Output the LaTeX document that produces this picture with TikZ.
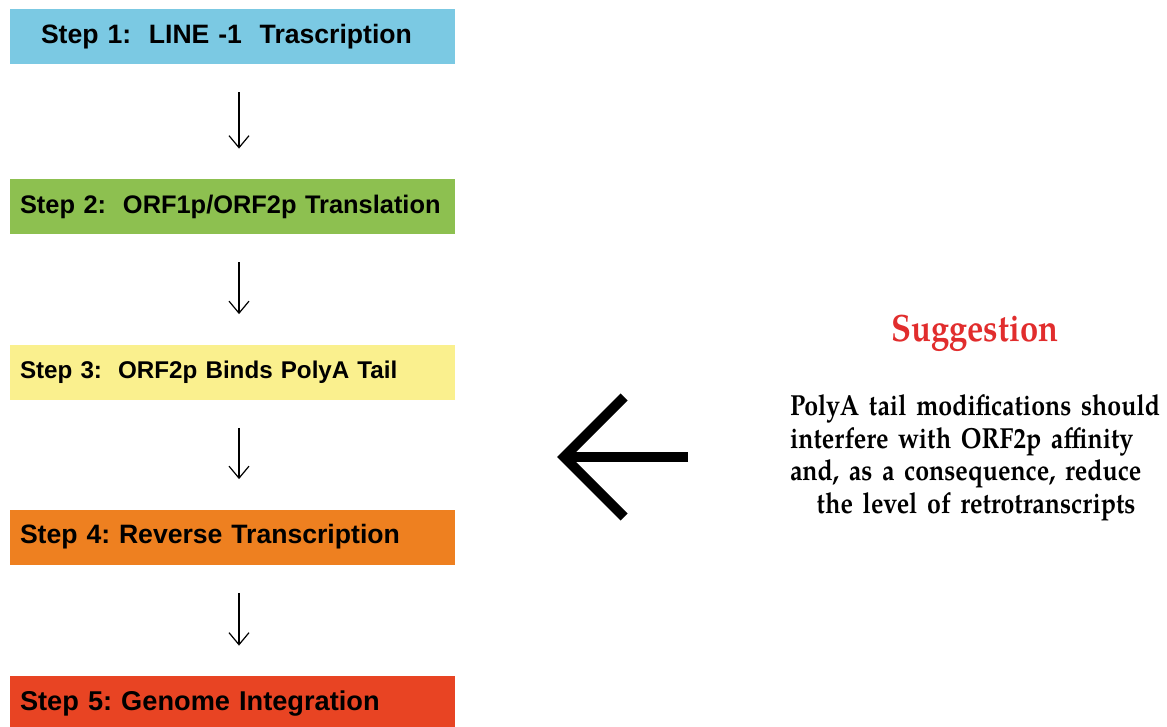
\documentclass[tikz,border=0pt]{standalone}
\usepackage{fontspec}
\setmainfont{Liberation Sans}
\newfontfamily\sugfont[FakeStretch=0.86]{TeX Gyre Pagella}
\usetikzlibrary{arrows.meta}

\definecolor{stepblue}{HTML}{7BC9E3}
\definecolor{stepgreen}{HTML}{8DC050}
\definecolor{stepyellow}{HTML}{FAF08E}
\definecolor{steporange}{HTML}{EE8020}
\definecolor{stepred}{HTML}{E84423}
\definecolor{sugred}{HTML}{E12D2D}

\tikzset{
  stepbox/.style={rectangle, minimum width=222.5pt, minimum height=27.5pt,
    text width=212.5pt, inner xsep=5pt, align=left},
  flow/.style={-{Straight Barb[length=6pt,width=10pt]}, line width=0.6pt,
    shorten <=14pt, shorten >=15pt},
}

\begin{document}
\frenchspacing
\begin{tikzpicture}[x=0.5pt,y=-0.5pt]
    \useasboundingbox (0,0) rectangle (1167,727);
    \clip (0,0) rectangle (1167,727);

    % Steps of the cycle
    \node[stepbox, fill=stepblue, font=\bfseries\fontsize{13.3}{16}\selectfont] (s1) at (232.5,36.5)
      {\hspace*{10.5pt}Step 1:~ LINE -1~ Trascription};
    \node[stepbox, fill=stepgreen, font=\bfseries\fontsize{12.7}{15}\selectfont] (s2) at (232.5,206.5)
      {Step 2:~ ORF1p/ORF2p Translation};
    \node[stepbox, fill=stepyellow, font=\bfseries\fontsize{12.1}{14}\selectfont] (s3) at (232.5,372)
      {Step 3:~ ORF2p Binds PolyA Tail};
    \node[stepbox, fill=steporange, font=\bfseries\fontsize{13.3}{15}\selectfont] (s4) at (232.5,537)
      {Step 4: Reverse Transcription};
    \node[stepbox, fill=stepred, font=\bfseries\fontsize{13.6}{15}\selectfont] (s5) at (232.5,703.5)
      {Step 5: Genome Integration};

    % Arrows between steps (a little right of the centre)
    \draw[flow] ([xshift=3.25pt]s1.south) -- ([xshift=3.25pt]s2.north);
    \draw[flow] ([xshift=3.25pt]s2.south) -- ([xshift=3.25pt]s3.north);
    \draw[flow] ([xshift=3.25pt]s3.south) -- ([xshift=3.25pt]s4.north);
    \draw[flow] ([xshift=3.25pt]s4.south) -- ([xshift=3.25pt]s5.north);

    % Suggestion
    \node[text=sugred, font=\sugfont\bfseries\fontsize{19}{22}\selectfont] (sug) at (975,333) {Suggestion};
    \node[text width=186pt, align=center, inner sep=0pt,
      font=\sugfont\bfseries\fontsize{14.5}{16.25}\selectfont] (note) at (976,458) {%
      \makebox[186pt][s]{PolyA tail modifications should}\\
      \makebox[186pt][s]{interfere with ORF2p affinity}\\
      \makebox[186pt][s]{and, as a consequence, reduce}\\
      the level of retrotranscripts};

    % Big arrow towards step 3
    \coordinate (tail) at (688,457);
    \coordinate (tip) at (557,457);
    \draw[-{Straight Barb[length=30pt,width=60pt]}, line width=5pt] (tail) -- (tip);
\end{tikzpicture}
\end{document}
